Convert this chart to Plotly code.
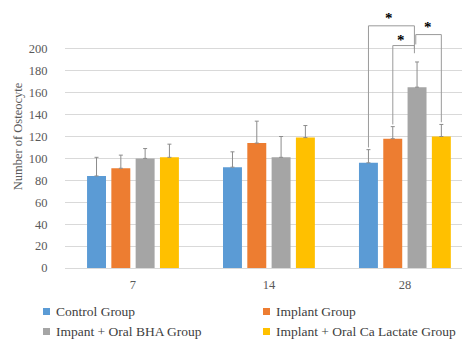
import plotly.graph_objects as go

# Days of observation
days = ["7", "14", "28"]

# Mean osteocyte counts and standard deviations per group
control_mean = [84, 92, 96]
control_sd = [17, 14, 12]
implant_mean = [91, 114, 118]
implant_sd = [12, 20, 11]
bha_mean = [100, 101, 165]
bha_sd = [9, 19, 23]
calac_mean = [101, 119, 120]
calac_sd = [12, 11, 11]

group_names = ["Control Group", "Implant Group", "Impant + Oral BHA Group",
               "Implant + Oral Ca Lactate Group"]
group_colors = ["#5B9BD5", "#ED7D31", "#A5A5A5", "#FFC000"]
means = [control_mean, implant_mean, bha_mean, calac_mean]
sds = [control_sd, implant_sd, bha_sd, calac_sd]

y_ticks = [0, 20, 40, 60, 80, 100, 120, 140, 160, 180, 200]

serif = "Liberation Serif"

W, H = 462, 340
M_L, M_R, M_T, M_B = 65, 0, 5, 72
PW, PH = W - M_L - M_R, H - M_T - M_B


def px_x(px):
    return (px - M_L) / PW


def px_y(py):
    return (H - M_B - py) / PH


fig = go.Figure()
for name, color, m, s in zip(group_names, group_colors, means, sds):
    fig.add_trace(go.Bar(
        x=days, y=m, name=name, marker_color=color, marker_line_width=0,
        error_y=dict(type="data", array=s, arrayminus=[0] * len(s), symmetric=False,
                     visible=True, color="#8c8c8c", thickness=1, width=2),
    ))

# Significance brackets on day 28 (x in category units)
bar_off = [-0.268, -0.089, 0.089, 0.268]
cx = 2
line_style = dict(color="#9a9a9a", width=1)
brackets = [
    [(cx + bar_off[0], 110), (cx + bar_off[0], 221), (cx + 0.07, 221), (cx + 0.07, 200)],
    [(cx + bar_off[1], 131), (cx + bar_off[1], 203), (cx + 0.07, 203), (cx + 0.07, 196)],
    [(cx + 0.08, 204), (cx + 0.08, 213), (cx + bar_off[3], 213), (cx + bar_off[3], 133)],
]
for pts in brackets:
    path = "M " + " L ".join(f"{x},{y}" for x, y in pts)
    fig.add_shape(type="path", path=path, xref="x", yref="y", line=line_style)

stars = [(1.884, 228), (1.972, 208), (2.173, 220)]
for sx, sy in stars:
    fig.add_annotation(x=sx, y=sy, text="<b>*</b>", showarrow=False,
                       font=dict(family=serif, size=15, color="black"),
                       xanchor="center", yanchor="middle")

# Two-column legend below the axis
legend_cols = [43, 263]
legend_rows = [311.5, 331.5]
for i, (name, color) in enumerate(zip(group_names, group_colors)):
    lx = legend_cols[i % 2]
    ly = legend_rows[i // 2]
    fig.add_shape(type="rect", xref="paper", yref="paper",
                  x0=px_x(lx), x1=px_x(lx + 7), y0=px_y(ly + 3.5), y1=px_y(ly - 3.5),
                  fillcolor=color, line_width=0)
    fig.add_annotation(xref="paper", yref="paper", x=px_x(lx + 11), y=px_y(ly),
                       text=name, showarrow=False, xanchor="left", yanchor="middle",
                       font=dict(family=serif, size=13.5, color="#404040"))

fig.update_layout(
    width=W, height=H,
    margin=dict(l=M_L, r=M_R, t=M_T, b=M_B),
    paper_bgcolor="white", plot_bgcolor="white",
    barmode="group", bargap=0.285, bargroupgap=0.22,
    font=dict(family=serif, size=12, color="#595959"),
    showlegend=False,
    xaxis=dict(type="category", range=[-0.5, 2.42], showgrid=False,
               showline=True, linecolor="#d9d9d9",
               ticks="outside", ticklen=5, tickcolor="rgba(0,0,0,0)",
               tickfont=dict(family=serif, size=12.5, color="#595959")),
    yaxis=dict(range=[0, 240], tickvals=y_ticks, showgrid=True,
               gridcolor="#d9d9d9", gridwidth=1, zeroline=False,
               ticks="outside", ticklen=14, tickcolor="rgba(0,0,0,0)",
               tickfont=dict(family=serif, size=12.5, color="#595959"),
               title=dict(text="Number of Osteocyte", standoff=3,
                          font=dict(family=serif, size=12.5, color="#595959"))),
)

fig.write_html("out.html")
